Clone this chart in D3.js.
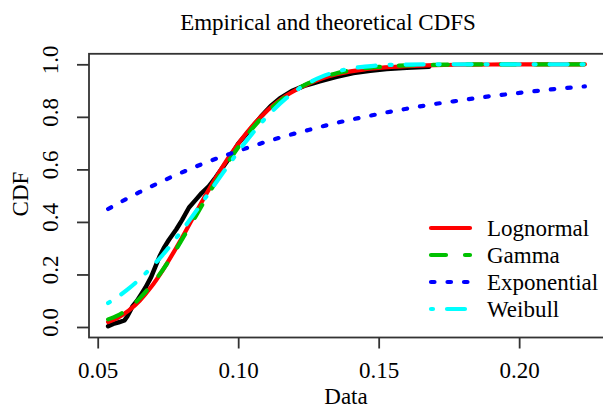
<!DOCTYPE html>
<html>
<head>
<meta charset="utf-8">
<script src="https://cdn.jsdelivr.net/npm/d3@7"></script>
<style>
  html, body { margin: 0; padding: 0; background: #fff; }
  svg { display: block; }
  svg text { font-family: "Liberation Serif", "Times New Roman", serif !important; fill: #000; }
</style>
</head>
<body>
<svg id="chart" width="603" height="410"></svg>
<script>
// ---- data ----
const gridX = [0.0537, 0.057, 0.061, 0.065, 0.069, 0.073, 0.077, 0.081, 0.085, 0.089,
  0.093, 0.097, 0.101, 0.105, 0.109, 0.113, 0.117, 0.121, 0.125, 0.13,
  0.135, 0.14, 0.145, 0.15, 0.16, 0.17, 0.18, 0.19, 0.20, 0.21, 0.2234];

const lognormalCDF = [0.019, 0.034, 0.062, 0.101, 0.152, 0.214, 0.284, 0.359, 0.437, 0.513,
  0.585, 0.652, 0.712, 0.765, 0.810, 0.848, 0.880, 0.905, 0.926, 0.947,
  0.962, 0.973, 0.981, 0.986, 0.993, 0.997, 0.9985, 0.9993, 0.9997, 0.9998, 0.9999];

const gammaCDF = [0.029, 0.043, 0.070, 0.110, 0.159, 0.215, 0.280, 0.351, 0.424, 0.498,
  0.570, 0.637, 0.699, 0.755, 0.803, 0.844, 0.878, 0.906, 0.928, 0.950,
  0.966, 0.977, 0.985, 0.990, 0.996, 0.998, 0.9994, 0.9998, 0.9999, 1.0, 1.0];

const exponentialCDF = [0.449, 0.469, 0.492, 0.514, 0.535, 0.555, 0.575, 0.593, 0.611, 0.628,
  0.644, 0.659, 0.674, 0.688, 0.702, 0.715, 0.727, 0.739, 0.750, 0.764,
  0.777, 0.789, 0.800, 0.811, 0.831, 0.849, 0.864, 0.879, 0.891, 0.903, 0.916];

const weibullCDF = [0.091, 0.114, 0.146, 0.183, 0.226, 0.273, 0.326, 0.382, 0.441, 0.502,
  0.563, 0.623, 0.682, 0.736, 0.787, 0.831, 0.870, 0.903, 0.929, 0.954,
  0.972, 0.984, 0.991, 0.996, 0.999, 0.9999, 1.0, 1.0, 1.0, 1.0, 1.0];

const empiricalX = [0.0537, 0.0555, 0.0575, 0.0595, 0.0605, 0.0615, 0.0623, 0.064, 0.0655, 0.067,
  0.069, 0.0706, 0.072, 0.0735, 0.0753, 0.078, 0.080, 0.0825, 0.0848, 0.087,
  0.0896, 0.092, 0.094, 0.097, 0.100, 0.1042, 0.108, 0.1115, 0.1148, 0.119,
  0.1235, 0.1267, 0.129, 0.135, 0.141, 0.147, 0.1528, 0.160, 0.168];
const empiricalY = [0.003, 0.012, 0.018, 0.025, 0.040, 0.060, 0.077, 0.100, 0.125, 0.150,
  0.190, 0.232, 0.268, 0.300, 0.331, 0.372, 0.407, 0.455, 0.483, 0.510,
  0.536, 0.570, 0.600, 0.645, 0.698, 0.750, 0.800, 0.840, 0.870, 0.898,
  0.918, 0.928, 0.935, 0.952, 0.967, 0.975, 0.982, 0.987, 0.991];

const seriesNames = ["Lognormal", "Gamma", "Exponential", "Weibull"];
const seriesColors = ["#ff0000", "#00c000", "#0000ff", "#00ffff"];
const seriesDashes = [null, "15,19", "3.5,13", "2,14,18,14"];
const seriesValues = [lognormalCDF, gammaCDF, exponentialCDF, weibullCDF];

const xTicks = [0.05, 0.10, 0.15, 0.20];
const yTicks = [0.0, 0.2, 0.4, 0.6, 0.8, 1.0];
const titleText = "Empirical and theoretical CDFS";
const xLabel = "Data";
const yLabel = "CDF";

// ---- drawing ----
const svg = d3.select("#chart");
const FS = 23;

const x = d3.scaleLinear().domain([0.0469, 0.2302]).range([89, 604]);
const y = d3.scaleLinear().domain([-0.04, 1.04]).range([337.5, 53.8]);

svg.append("defs").append("clipPath").attr("id", "clip")
  .append("rect").attr("x", 89).attr("y", 53.8).attr("width", 515).attr("height", 283.7);

const plot = svg.append("g").attr("clip-path", "url(#clip)");

// empirical
const empData = empiricalX.map((v, i) => [v, empiricalY[i]]);
plot.append("path")
  .datum(empData)
  .attr("fill", "none")
  .attr("stroke", "#000")
  .attr("stroke-width", 4.5)
  .attr("stroke-linejoin", "round")
  .attr("stroke-linecap", "round")
  .attr("d", d3.line().x(d => x(d[0])).y(d => y(d[1])));

// theoretical
const line = d3.line().x(d => x(d[0])).y(d => y(d[1])).curve(d3.curveMonotoneX);
seriesValues.forEach((vals, i) => {
  const data = gridX.map((v, j) => [v, vals[j]]);
  const p = plot.append("path")
    .datum(data)
    .attr("fill", "none")
    .attr("stroke", seriesColors[i])
    .attr("stroke-width", 4.2)
    .attr("stroke-linecap", "round")
    .attr("stroke-linejoin", "round")
    .attr("d", line);
  if (seriesDashes[i]) p.attr("stroke-dasharray", seriesDashes[i]);
});

// box
svg.append("rect")
  .attr("x", 89).attr("y", 53.8).attr("width", 520).attr("height", 283.7)
  .attr("fill", "none").attr("stroke", "#333").attr("stroke-width", 1.8);

// axes
const xAxis = svg.append("g").attr("transform", "translate(0,337.5)")
  .call(d3.axisBottom(x).tickValues(xTicks).tickSize(11).tickPadding(13)
    .tickFormat(d3.format(".2f")));
xAxis.select(".domain").remove();
xAxis.selectAll(".tick line").attr("stroke", "#333").attr("stroke-width", 1.8);
xAxis.selectAll(".tick text").attr("font-size", FS);

const yAxis = svg.append("g").attr("transform", "translate(89,0)")
  .call(d3.axisLeft(y).tickValues(yTicks).tickSize(12).tickFormat(d3.format(".1f")));
yAxis.select(".domain").remove();
yAxis.selectAll(".tick line").attr("stroke", "#333").attr("stroke-width", 1.8);
yAxis.selectAll(".tick text")
  .attr("font-size", FS)
  .attr("x", null).attr("dy", null)
  .attr("text-anchor", "middle")
  .attr("transform", "translate(-31,-5) rotate(-90)");

// title & labels
svg.append("text").attr("x", 328).attr("y", 30).attr("text-anchor", "middle")
  .attr("font-size", FS).text(titleText);
svg.append("text").attr("x", 346).attr("y", 404).attr("text-anchor", "middle")
  .attr("font-size", FS).text(xLabel);
svg.append("text").attr("transform", "translate(28,194) rotate(-90)")
  .attr("text-anchor", "middle").attr("font-size", FS).text(yLabel);

// legend
const legendY0 = 228, legendStep = 27;
seriesNames.forEach((name, i) => {
  const ly = legendY0 + i * legendStep;
  const l = svg.append("line")
    .attr("x1", 431).attr("x2", 470).attr("y1", ly).attr("y2", ly)
    .attr("stroke", seriesColors[i]).attr("stroke-width", 4.2)
    .attr("stroke-linecap", "round");
  if (seriesDashes[i]) l.attr("stroke-dasharray", seriesDashes[i]);
  svg.append("text").attr("x", 487).attr("y", ly + 8)
    .attr("font-size", FS).text(name);
});
</script>
</body>
</html>
